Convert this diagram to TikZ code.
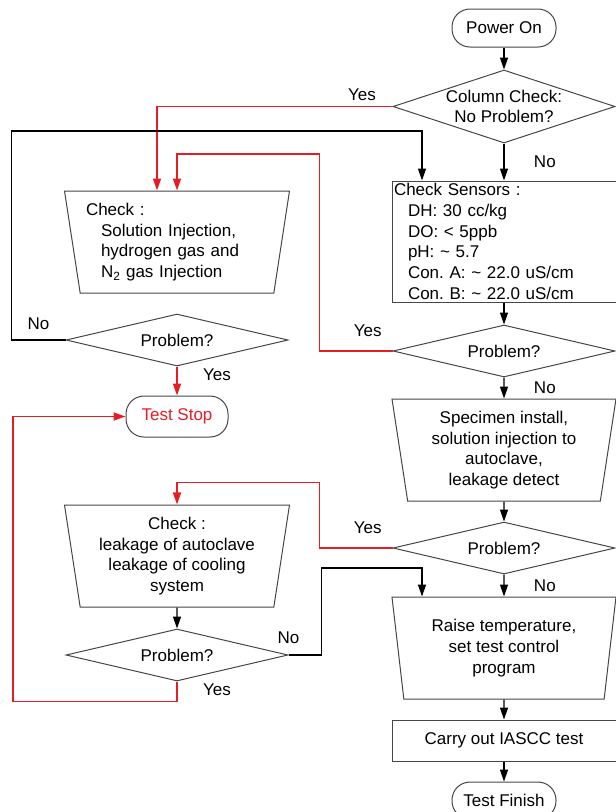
\documentclass[tikz,border=0pt]{standalone}
\usepackage{fontspec}
\setmainfont{Liberation Sans}
\usepackage{tikz}
\usetikzlibrary{shapes.geometric,arrows.meta,positioning,calc}
\definecolor{flowRed}{RGB}{228,30,36}
\definecolor{flowDark}{RGB}{70,70,70}
\frenchspacing

\begin{document}
\begin{tikzpicture}[
    x=1pt, y=1pt,
    every node/.style={font=\fontsize{17}{20.7}\selectfont, align=center},
    termNode/.style={rectangle, rounded corners=18pt, draw=flowDark, line width=1pt, minimum width=104pt, minimum height=38pt, inner sep=0pt},
    decNode/.style={diamond, draw=flowDark, line width=1pt, aspect=3, minimum width=222pt, minimum height=52pt, inner sep=0pt},
    procNode/.style={rectangle, draw=flowDark, line width=1pt, minimum width=224pt, inner sep=0pt},
    manNode/.style={trapezium, trapezium left angle=100.5, trapezium right angle=100.5, trapezium stretches body, draw=flowDark, line width=1pt, minimum width=225pt, minimum height=102pt, inner xsep=0pt},
    connArrow/.style={-{Triangle[length=12pt,width=8pt]}, line width=1.3pt, draw=black},
    redArrow/.style={-{Triangle[length=12pt,width=8pt]}, line width=1.5pt, draw=flowRed}
]
\useasboundingbox (0,0) rectangle (616,-812);

% Nodes
\node (power) [termNode] at (504,-28) {Power On};
\node (col) [decNode, minimum height=73pt, below=22pt of power] {Column Check:\\No Problem?};
\node (sensors) [procNode, minimum height=121pt, text width=220pt, align=left, below=37pt of col] {Check Sensors :\\
  \hspace*{14pt}DH: 30 cc/kg\\
  \hspace*{14pt}DO: < 5ppb\\
  \hspace*{14pt}pH: \textasciitilde{} 5.7\\
  \hspace*{14pt}Con. A: \textasciitilde{} 22.0 uS/cm\\
  \hspace*{14pt}Con. B: \textasciitilde{} 22.0 uS/cm};
\node (prob1) [decNode, below=22pt of sensors] {Problem?};
\node (spec) [manNode, minimum width=224pt, below=21pt of prob1] {Specimen install,\\solution injection to\\autoclave,\\leakage detect};
\node (prob2) [decNode, below=20pt of spec] {Problem?};
\node (raise) [manNode, minimum width=224pt, below=22pt of prob2] {Raise temperature,\\set test control\\program};
\node (carry) [procNode, minimum height=41pt, below=20pt of raise] {Carry out IASCC test};
\node (finish) [termNode, minimum height=37pt, below=20pt of carry] {Test Finish};

\node (check1) [manNode, text width=182pt, align=left] at (177,-242) {Check :\\
  \hspace*{15pt}Solution Injection,\\
  \hspace*{15pt}hydrogen gas and\\
  \hspace*{15pt}N\textsubscript{2} gas Injection};
\node (prob3) [decNode, below=20pt of check1] {Problem?};
\node (stop) [termNode, minimum width=102pt, minimum height=41pt, text=flowRed, below=29pt of prob3] {Test Stop};
\node (check2) [manNode] at (177,-556) {Check :\\leakage of autoclave\\leakage of cooling\\system};
\node (prob4) [decNode, below=21pt of check2] {Problem?};

% Connectors
\draw [connArrow] (power) -- (col);
\draw [connArrow] (col) -- node[right=26pt] {No} (sensors);
\draw [redArrow] (col.west) -| node[pos=0.065, above=2pt, text=black] {Yes} ([xshift=-20pt]check1.north);
\draw [connArrow] (prob3.west) -| node[pos=0.25, above=6pt] {No} ++(-54,209) -| ([xshift=-82pt]sensors.north);
\draw [redArrow] (prob3) -- node[pos=0.3, right=22pt, text=black] {Yes} (stop);
\draw [connArrow] (sensors) -- (prob1);
\draw [redArrow] (prob1.west) -| node[pos=0.17, above=10pt, text=black] {Yes} ++(-73,197) -| (check1.north);
\draw [connArrow] (prob1) -- node[right=26pt] {No} (spec);
\draw [connArrow] (spec) -- (prob2);
\draw [redArrow] (prob2.west) -| node[pos=0.17, above=10pt, text=black] {Yes} ++(-73,65.5) -| (check2.north);
\draw [connArrow] (prob2) -- node[right=26pt] {No} (raise);
\draw [connArrow] (check2) -- (prob4);
\draw [connArrow] (prob4.east) -| node[at start, above=7pt] {No} ++(33,87) -| ([xshift=-82pt]raise.north);
\draw [redArrow] (prob4.south) |- node[pos=0, right=22pt, yshift=-8pt, text=black] {Yes} ++(-164,-20) |- (stop.west);
\draw [connArrow] (raise) -- (carry);
\draw [connArrow] (carry) -- (finish);

\end{tikzpicture}
\end{document}
